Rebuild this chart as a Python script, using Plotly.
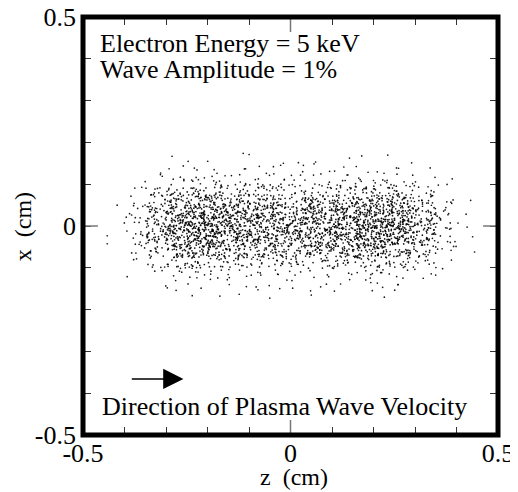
import plotly.graph_objects as go

# ---- data (density of the electron cloud) ----
# z-bin centers (cm), bin width 0.05
z_centers = [-0.425, -0.375, -0.325, -0.275, -0.225, -0.175, -0.125, -0.075, -0.025,
             0.025, 0.075, 0.125, 0.175, 0.225, 0.275, 0.325, 0.375, 0.425]
# estimated number of dots per z-bin
col_totals = [4, 32, 120, 225, 295, 275, 230, 210, 205,
              205, 210, 230, 275, 290, 225, 130, 38, 5]
# x-bin centers (cm), bin width 0.025
x_centers = [-0.1875, -0.1625, -0.1375, -0.1125, -0.0875, -0.0625, -0.0375, -0.0125,
             0.0125, 0.0375, 0.0625, 0.0875, 0.1125, 0.1375, 0.1625, 0.1875]
# estimated relative share of dots per x-bin
x_profile = [0.001, 0.003, 0.008, 0.02, 0.05, 0.11, 0.16, 0.18,
             0.18, 0.16, 0.11, 0.05, 0.02, 0.008, 0.003, 0.001]

z_ticks = [-0.5, -0.4, -0.3, -0.2, -0.1, 0.0, 0.1, 0.2, 0.3, 0.4, 0.5]
tick_text = ['-0.5', '', '', '', '', '0', '', '', '', '', '0.5']

DZ, DX = 0.05, 0.025
# spread each cell's dots over the cell with a deterministic quadratic Weyl sequence
A1, A2 = 0.7548776662466927, 0.5698402909980532
psum = sum(x_profile)
zs, xs = [], []
k = 0
for zc, tot in zip(z_centers, col_totals):
    for xc, p in zip(x_centers, x_profile):
        n = int(round(tot * p / psum))
        for _ in range(n):
            k += 1
            u = (k * A1 + k * k * 0.4142135623730950) % 1.0
            v = (k * A2 + k * k * 0.7320508075688772) % 1.0
            zs.append(zc - DZ / 2 + u * DZ)
            xs.append(xc - DX / 2 + v * DX)

fig = go.Figure()
fig.add_trace(go.Scatter(x=zs, y=xs, mode='markers',
                         marker=dict(size=1.7, color='black', opacity=0.9, line=dict(width=0)),
                         hoverinfo='skip'))

FONT = 'Liberation Serif'
axis_common = dict(range=[-0.5, 0.5], tickvals=z_ticks, ticktext=tick_text,
                   ticks='inside', ticklen=8, tickwidth=1, tickcolor='#333',
                   mirror='ticks', showgrid=False, zeroline=False, showline=False,
                   tickfont=dict(family=FONT, size=26, color='black'),
                   automargin=False, ticklabeloverflow='allow')
# the page body has an 8px margin, so the figure is 8px smaller than the window
fig.update_layout(
    width=510, height=484,
    margin=dict(l=75, r=20, t=9, b=57),
    plot_bgcolor='white', paper_bgcolor='white', showlegend=False,
    font=dict(family=FONT, size=26, color='black'),
    xaxis=dict(axis_common, ticklabelstandoff=0),
    yaxis=dict(axis_common, ticklabelstandoff=6),
)

# longer zero ticks
zl = 15 / 418.0
for (x0, x1, y0, y1) in [(0, 0, -0.5, -0.5 + zl), (0, 0, 0.5, 0.5 - zl),
                          (-0.5, -0.5 + zl, 0, 0), (0.5, 0.5 - zl, 0, 0)]:
    fig.add_shape(type='line', x0=x0, x1=x1, y0=y0, y1=y1, xref='x', yref='y',
                  line=dict(color='#777', width=1.5))
# frame
fig.add_shape(type='rect', xref='paper', yref='paper', x0=0, x1=1, y0=0, y1=1,
              line=dict(color='black', width=5), layer='above')

ann = dict(showarrow=False, font=dict(family=FONT, size=26, color='black'))
fig.add_annotation(text='Electron Energy = 5 keV', xref='paper', yref='paper',
                   x=0.035, y=0.936, xanchor='left', yanchor='middle', **ann)
fig.add_annotation(text='Wave Amplitude = 1%', xref='paper', yref='paper',
                   x=0.035, y=0.874, xanchor='left', yanchor='middle', **ann)
fig.add_annotation(text='Direction of Plasma Wave Velocity', xref='paper', yref='paper',
                   x=0.04, y=0.069, xanchor='left', yanchor='middle', **ann)
# axis titles
fig.add_annotation(text='z\u00a0 (cm)', xref='paper', yref='paper', x=0.509, y=-0.1,
                   xanchor='center', yanchor='middle', showarrow=False,
                   font=dict(family=FONT, size=24, color='black'))
fig.add_annotation(text='x\u00a0 (cm)', xref='paper', yref='paper', x=-0.146, y=0.498,
                   xanchor='center', yanchor='middle', textangle=-90, showarrow=False,
                   font=dict(family=FONT, size=24, color='black'))
# arrow
fig.add_annotation(x=-0.258, y=-0.366, ax=-0.386, ay=-0.366, xref='x', yref='y',
                   axref='x', ayref='y', text='', showarrow=True,
                   arrowhead=2, arrowsize=2.7, arrowwidth=1.5, arrowcolor='black')

fig.write_html('out.html')
